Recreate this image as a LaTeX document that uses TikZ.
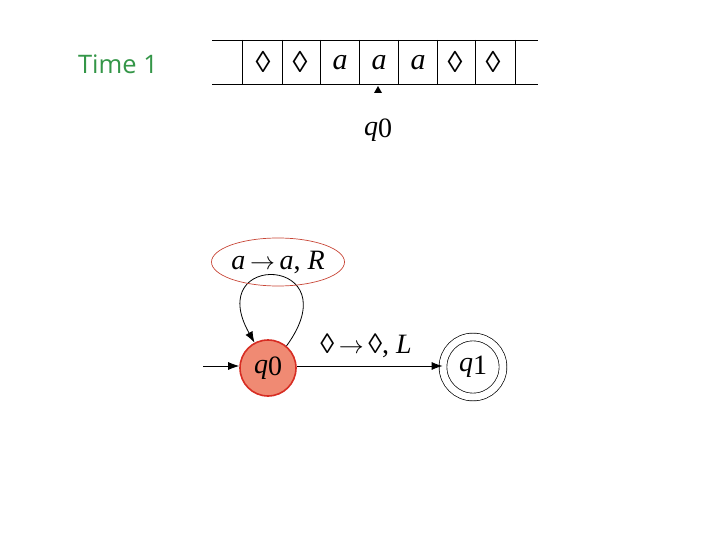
\documentclass[tikz,border=0pt]{standalone}
\usepackage{fontspec}
\setmainfont{Liberation Serif}
\newfontfamily\timefont{Open Sans}
\usetikzlibrary{arrows.meta,shapes.geometric}
\definecolor{timegreen}{RGB}{52,150,72}
\definecolor{statefill}{RGB}{240,138,115}
\definecolor{stateline}{RGB}{215,45,35}
\definecolor{ovalred}{RGB}{200,70,55}
\newcommand{\tarr}{\,$\rightarrow$\,}
\begin{document}
\begin{tikzpicture}[x=1pt,y=-1pt,
  cellsym/.style={inner sep=0pt,font=\fontsize{30}{30}\selectfont},
  lbl/.style={inner sep=0pt,font=\fontsize{28}{28}\selectfont},
  edgelbl/.style={inner sep=0pt,font=\fontsize{28}{28}\selectfont},
  startstate/.style={circle,draw=stateline,line width=1.6pt,fill=statefill,minimum size=56pt,inner sep=0pt,font=\fontsize{28}{28}\selectfont},
  finalstate/.style={circle,draw,double,double distance=7pt,line width=0.7pt,minimum size=60pt,inner sep=0pt,font=\fontsize{28}{28}\selectfont},
  conn/.style={line width=0.8pt,-{Latex[length=11pt,width=8pt]}},
  tapeline/.style={line width=0.7pt}
]
\useasboundingbox (0,0) rectangle (720,540);
% title
\node[text=timegreen,font=\timefont\fontsize{25.5}{25.5}\selectfont,inner sep=0pt] (title) at (118,64) {Time 1};
% tape
\draw[tapeline] (212,40) -- (538,40);
\draw[tapeline] (212,84) -- (538,84);
\foreach \x in {242,282,320,359,398,437,475,515}{\draw[tapeline] (\x,40) -- (\x,84);}
\node[cellsym] (c1) at (263,62) {◊};
\node[cellsym] (c2) at (300,62) {◊};
\node[cellsym] (c3) at (340,63) {\textit{a}};
\node[cellsym] (c4) at (379,63) {\textit{a}};
\node[cellsym] (c5) at (418,63) {\textit{a}};
\node[cellsym] (c6) at (455,62) {◊};
\node[cellsym] (c7) at (493,62) {◊};
\fill (374,93) -- (378,86) -- (382,93) -- cycle;
\node[lbl] (headstate) at (378,130) {\textit{q}\raisebox{-0.2ex}{0}};
% automaton
\node[startstate] (q0) at (268,368) {\textit{q}\raisebox{-0.2ex}{0}};
\node[finalstate] (q1) at (473,367) {\textit{q}\raisebox{-0.2ex}{1}};
\coordinate (init) at (203,366);
\draw[conn] (init) -- (q0.west |- init);
\draw[conn] (q0.east |- init) -- (q1.west |- init);
\draw[conn] (q0.50) .. controls (352,256) and (202,250) .. (q0.118);
\node[ellipse,draw=ovalred,line width=0.7pt,minimum width=133pt,minimum height=48pt,inner sep=0pt] (oval) at (278,262) {};
\node[edgelbl] (looplbl) at (278,262) {\textit{a}\tarr\textit{a}, \textit{R}};
\node[edgelbl] (edgelabel) at (366,346) {◊\tarr◊, \textit{L}};
\end{tikzpicture}
\end{document}
